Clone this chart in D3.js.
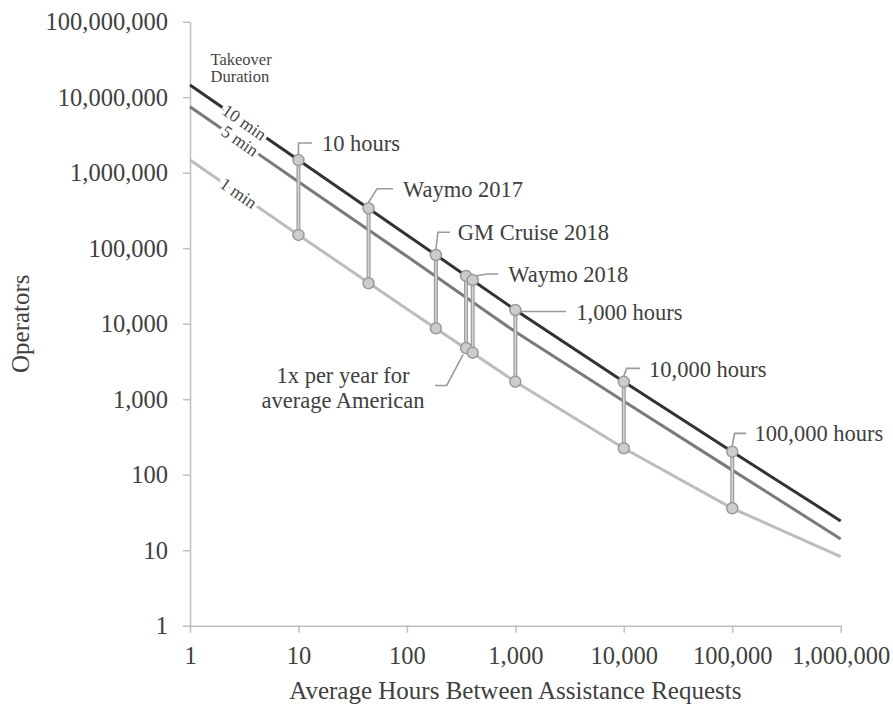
<!DOCTYPE html>
<html>
<head>
<meta charset="utf-8">
<script src="https://cdn.jsdelivr.net/npm/d3@7"></script>
<style>
  body { margin: 0; background: #fff; }
  svg { font-family: "Liberation Serif", "Times New Roman", serif; }
  .axis path, .axis line { stroke: #bfbfbf; stroke-width: 1.5; }
  .axis text { font-size: 24.5px; fill: #404040; font-family: "Liberation Serif", serif; }
</style>
</head>
<body>
<script>
var WIDTH = 893, HEIGHT = 706;

// axis ticks
var hoursTicks = [1, 10, 100, 1000, 10000, 100000, 1000000];
var operatorTicks = [1, 10, 100, 1000, 10000, 100000, 1000000, 10000000, 100000000];

// takeover duration lines, sampled at each decade of hours
var lineHours = [1, 10, 100, 1000, 10000, 100000, 1000000];
var min10 = [1.45e7, 1.47e6, 1.5e5, 1.52e4, 1700, 202, 24.4];
var min5 = [7.48e6, 7.6e5, 7.8e4, 7.8e3, 940, 115, 14.1];
var min1 = [1.47e6, 1.5e5, 1.57e4, 1705, 224, 35.9, 8.2];
var lineNames = ["10 min", "5 min", "1 min"];
var legendTitle = ["Takeover", "Duration"];

// marked cases
var markerNames = ["10 hours", "Waymo 2017", "GM Cruise 2018", "1x per year for|average American",
                   "Waymo 2018", "1,000 hours", "10,000 hours", "100,000 hours"];
var markerHours = [10, 44.3, 185, 351, 404, 1000, 10000, 100000];
var markerTop = [1.47e6, 3.38e5, 8.13e4, 4.29e4, 3.79e4, 1.52e4, 1700, 202];
var markerBottom = [1.5e5, 3.43e4, 8690, 4760, 4130, 1705, 224, 35.9];

// callout placement (pixel offsets from the marker)
var callouts = [
  {from: "top", pts: [[0, -6], [0, -17], [13.5, -17]], tx: 23.5, ty: -17},
  {from: "top", pts: [[0, -6], [8.5, -19.5], [24.5, -19.5]], tx: 34.5, ty: -19.5},
  {from: "top", pts: [[0, -5.5], [2, -22.7], [14, -22.7]], tx: 22, ty: -22.7},
  {from: "bottom", pts: [[-3, 6.7], [-19.3, 37.4], [-31, 37.4]], tx: -123, ty: 26.7, anchor: "middle"},
  {from: "top", pts: [[3, -4], [14, -6], [25.6, -6]], tx: 35.6, ty: -6},
  {from: "top", pts: [[5.5, 1.5], [50.7, 1.5]], tx: 61, ty: 2},
  {from: "top", pts: [[0, -5.5], [2.7, -13.4], [16, -13.4]], tx: 25.3, ty: -13.4},
  {from: "top", pts: [[0, -5.5], [2.3, -18.3], [14, -18.3]], tx: 22.3, ty: -18.3}
];
var lineLabelAt = [0.5, 0.46, 0.445]; // fraction of first decade where label sits

var _xScale = d3.scaleLog().domain([1, 1000000]).range([190, 840.7]);
var _yScale = d3.scaleLog().domain([1, 100000000]).range([625.7, 21.7]);

var _svg = d3.select('body').append('svg')
    .attr('width', WIDTH)
    .attr('height', HEIGHT);

_svg.append('rect').attr('width', WIDTH).attr('height', HEIGHT).attr('fill', '#fff');

// axes
_svg.append('g')
    .attr('class', 'axis')
    .attr('transform', 'translate(0,' + _yScale(1) + ')')
    .call(d3.axisBottom(_xScale).tickValues(hoursTicks).tickFormat(d3.format(','))
        .tickSize(7).tickSizeOuter(0).tickPadding(14));

_svg.append('g')
    .attr('class', 'axis')
    .attr('transform', 'translate(' + _xScale(1) + ',0)')
    .call(d3.axisLeft(_yScale).tickValues(operatorTicks).tickFormat(d3.format(','))
        .tickSize(7).tickSizeOuter(0).tickPadding(15));

_svg.append('text')
    .attr('x', (_xScale.range()[0] + _xScale.range()[1]) / 2)
    .attr('y', 699)
    .attr('text-anchor', 'middle')
    .attr('font-size', 25)
    .attr('fill', '#404040')
    .text('Average Hours Between Assistance Requests');

_svg.append('text')
    .attr('transform', 'translate(29,' + ((_yScale.range()[0] + _yScale.range()[1]) / 2) + ') rotate(-90)')
    .attr('text-anchor', 'middle')
    .attr('font-size', 25)
    .attr('fill', '#404040')
    .text('Operators');

// duration lines
var series = [
  {name: lineNames[0], values: min10, color: '#333333'},
  {name: lineNames[1], values: min5, color: '#7a7a7a'},
  {name: lineNames[2], values: min1, color: '#bdbdbd'}
];

var line = d3.line()
    .x(function(d, i) { return _xScale(lineHours[i]); })
    .y(function(d) { return _yScale(d); });

var lg = _svg.append('g');
series.forEach(function(s, k) {
  lg.append('path')
      .attr('d', line(s.values))
      .attr('fill', 'none')
      .attr('stroke', s.color)
      .attr('stroke-width', 3);

  var x0 = _xScale(lineHours[0]), y0 = _yScale(s.values[0]);
  var x1 = _xScale(lineHours[1]), y1 = _yScale(s.values[1]);
  var t = lineLabelAt[k];
  var px = x0 + (x1 - x0) * t, py = y0 + (y1 - y0) * t;
  var ang = Math.atan2(y1 - y0, x1 - x0) * 180 / Math.PI;
  lg.append('text')
      .attr('transform', 'translate(' + px + ',' + py + ') rotate(' + ang + ')')
      .attr('text-anchor', 'middle')
      .attr('dy', '0.32em')
      .attr('font-size', 17.5)
      .attr('fill', '#444')
      .attr('stroke', '#fff')
      .attr('stroke-width', 7)
      .attr('paint-order', 'stroke')
      .text(s.name);
});

_svg.append('g').selectAll('text')
    .data(legendTitle)
    .enter().append('text')
      .attr('x', 210.5)
      .attr('y', function(d, i) { return 64.5 + i * 17.5; })
      .attr('font-size', 16.5)
      .attr('fill', '#444')
      .text(function(d) { return d; });

// connectors between 10 min and 1 min values
var mg = _svg.append('g');
markerHours.forEach(function(h, i) {
  var x = _xScale(h);
  mg.append('line')
      .attr('x1', x).attr('x2', x)
      .attr('y1', _yScale(markerTop[i])).attr('y2', _yScale(markerBottom[i]))
      .attr('stroke', '#9c9c9c').attr('stroke-width', 4);
  mg.append('line')
      .attr('x1', x).attr('x2', x)
      .attr('y1', _yScale(markerTop[i])).attr('y2', _yScale(markerBottom[i]))
      .attr('stroke', '#d4d4d4').attr('stroke-width', 1.6);
});

// callout leaders and labels
markerHours.forEach(function(h, i) {
  var c = callouts[i];
  var x = _xScale(h);
  var y = _yScale(c.from === 'top' ? markerTop[i] : markerBottom[i]);
  mg.append('path')
      .attr('d', d3.line()(c.pts.map(function(p) { return [x + p[0], y + p[1]]; })))
      .attr('fill', 'none')
      .attr('stroke', '#9a9a9a')
      .attr('stroke-width', 1.6);

  var parts = markerNames[i].split('|');
  var txt = mg.append('text')
      .attr('font-size', 22.5)
      .attr('fill', '#404040')
      .attr('text-anchor', c.anchor || 'start');
  parts.forEach(function(p, j) {
    txt.append('tspan')
        .attr('x', x + c.tx)
        .attr('y', y + c.ty + j * 25)
        .attr('dy', '0.36em')
        .text(p);
  });
});

// markers
markerHours.forEach(function(h, i) {
  [markerTop[i], markerBottom[i]].forEach(function(v) {
    mg.append('circle')
        .attr('cx', _xScale(h))
        .attr('cy', _yScale(v))
        .attr('r', 5.5)
        .attr('fill', '#cccccc')
        .attr('stroke', '#9a9a9a')
        .attr('stroke-width', 1.5);
  });
});
</script>
</body>
</html>
